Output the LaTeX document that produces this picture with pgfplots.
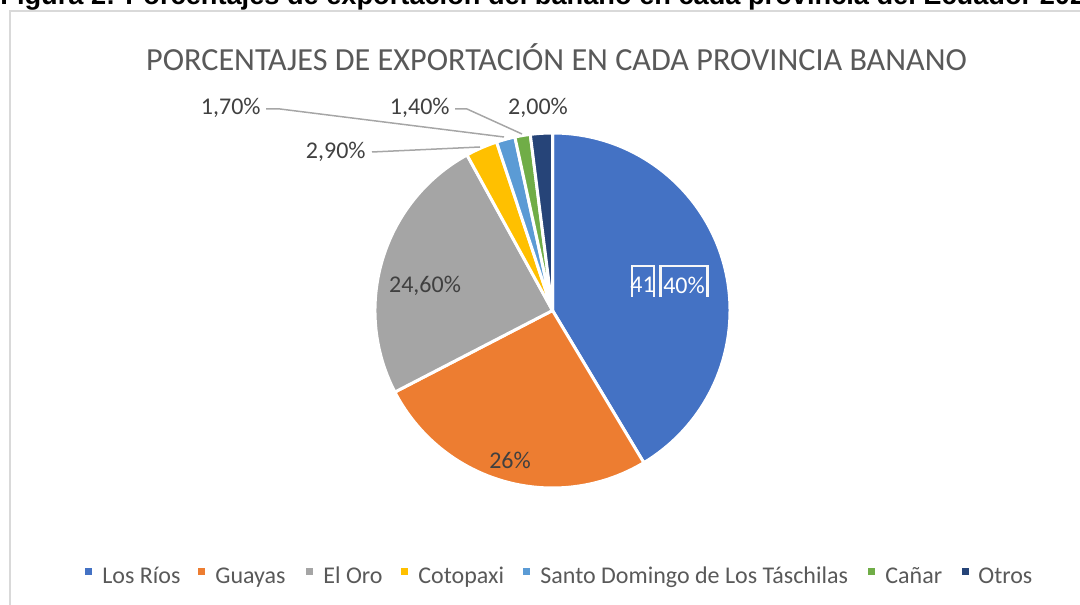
\documentclass[border=0pt]{standalone}
\usepackage{pgfplots}
\usepackage{pgfplotstable}
\usepackage{fontspec}
\pgfplotsset{compat=1.18}
\setmainfont{Carlito}
\newfontfamily\capfont{Liberation Sans}

\definecolor{pie0}{HTML}{4472C4}
\definecolor{pie1}{HTML}{ED7D31}
\definecolor{pie2}{HTML}{A5A5A5}
\definecolor{pie3}{HTML}{FFC000}
\definecolor{pie4}{HTML}{5B9BD5}
\definecolor{pie5}{HTML}{70AD47}
\definecolor{pie6}{HTML}{264478}
\definecolor{txtdark}{HTML}{404040}
\definecolor{txtgray}{HTML}{595959}
\definecolor{leader}{HTML}{A6A6A6}
\definecolor{frame}{HTML}{D9D9D9}

% porcentajes por provincia (Los Rios, Guayas, El Oro, Cotopaxi, Santo Domingo, Canar, Otros)
\pgfplotstableread{
value
41.40
26
24.60
2.90
1.70
1.40
2.00
}\piedata

\newcommand\lbl{\fontsize{12bp}{14bp}\selectfont}

\begin{document}
\begin{tikzpicture}
% angulos acumulados, en sentido horario desde las 12
\gdef\acc{90}
\foreach \i in {0,...,6}{%
  \pgfplotstablegetelem{\i}{value}\of\piedata
  \pgfmathsetmacro\endang{\acc-3.6*\pgfplotsretval}%
  \expandafter\xdef\csname sa\i\endcsname{\acc}%
  \expandafter\xdef\csname ea\i\endcsname{\endang}%
  \xdef\acc{\endang}%
}
\begin{axis}[
    name=ax,
    hide axis,
    scale only axis,
    x=0.5bp, y=0.5bp,
    xmin=0, xmax=1080, ymin=0, ymax=604,
    enlargelimits=false,
    clip=false,
]
% marco del grafico
\draw[frame, line width=0.75bp] (axis cs:1095,593) -- (axis cs:10,593) -- (axis cs:10,-10);
% pie
\pgfplotsinvokeforeach{0,...,6}{
  \filldraw[fill=pie#1, draw=white, line width=1.5bp, line join=round]
    (axis cs:552.5,293.5) -- ++(\csname sa#1\endcsname:88.75bp)
    arc[start angle=\csname sa#1\endcsname, end angle=\csname ea#1\endcsname, radius=88.75bp] -- cycle;
}
% titulo
\node[text=txtgray, font=\fontsize{16.1bp}{19bp}\selectfont] at (axis cs:556.5,547) {PORCENTAJES DE EXPORTACIÓN EN CADA PROVINCIA BANANO};
% etiquetas de datos
\draw[white!94!gray, line width=1.25bp] (axis cs:632,307) -- (axis cs:632,338) -- (axis cs:654,338) -- (axis cs:654,307);
\draw[white!94!gray, line width=1.25bp] (axis cs:660.5,307) -- (axis cs:660.5,338) -- (axis cs:707.5,338) -- (axis cs:707.5,307);
\node[text=white, font=\lbl] at (axis cs:642.5,319) {41};
\node[text=white, font=\lbl] at (axis cs:684,319) {40\%};
\node[text=txtdark, font=\lbl] at (axis cs:425,318) {24,60\%};
\node[text=txtdark, font=\lbl] at (axis cs:510,144) {26\%};
\node[text=txtdark, font=\lbl, anchor=east, inner sep=0pt] at (axis cs:366,452) {2,90\%};
\node[text=txtdark, font=\lbl, anchor=east, inner sep=0pt] at (axis cs:261,496) {1,70\%};
\node[text=txtdark, font=\lbl, anchor=east, inner sep=0pt] at (axis cs:450,496) {1,40\%};
\node[text=txtdark, font=\lbl] at (axis cs:538,496) {2,00\%};
% lineas guia
\draw[leader, line width=0.75bp] (axis cs:372,452) -- (axis cs:480,457);
\draw[leader, line width=0.75bp] (axis cs:266,495) -- (axis cs:280,495) -- (axis cs:504,467);
\draw[leader, line width=0.75bp] (axis cs:455,495) -- (axis cs:467,495) -- (axis cs:522,470);
% pie de figura (cortado arriba)
\node[anchor=base west, inner sep=0pt, font=\capfont\bfseries\fontsize{13.6bp}{16bp}\selectfont] at (axis cs:0,599) {Figura 2: Porcentajes de exportación del banano en cada provincia del Ecuador 2020};
\end{axis}
% leyenda
\begin{scope}[shift={(ax.south west)}, x=0.5bp, y=0.5bp]
\foreach \lsx/\ltx/\lcol/\lname in {85/102/pie0/Los Ríos, 198/215/pie1/Guayas, 306/323/pie2/El Oro, 401/418/pie3/Cotopaxi, 523/540/pie4/Santo Domingo de Los Táschilas, 868/885/pie5/Cañar, 962/978/pie6/Otros}{
  \fill[\lcol] (\lsx,29) rectangle (\lsx+7,36);
  \node[anchor=base west, inner sep=0pt, text=txtgray, font=\lbl] at (\ltx,21) {\lname};
}
\end{scope}
\pgfresetboundingbox
\useasboundingbox (ax.south west) rectangle (ax.north east);
\end{tikzpicture}
\end{document}
